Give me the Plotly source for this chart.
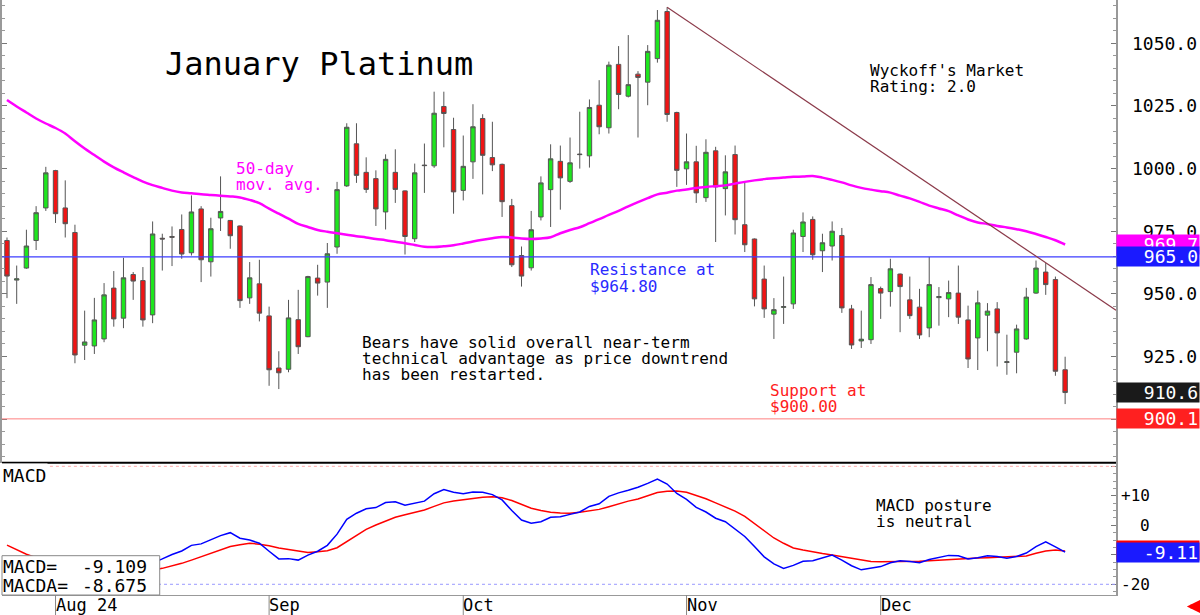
import pandas as pd
import plotly.graph_objects as go

# ---------------- data ----------------
holidays = ["2024-09-02", "2024-11-28", "2024-12-25"]
dates = [d.strftime("%Y-%m-%d") for d in pd.bdate_range("2024-07-25", "2024-12-30")
         if d.strftime("%Y-%m-%d") not in holidays]

opens = [971.3, 955.5, 960.3, 971.3, 984.3, 999.2, 984.3, 974.5, 929.5, 929.2,
         932.0, 952.3, 940.3, 957.7, 955.3, 941.6, 972.2, 972.9, 975.7, 966.4,
         983.9, 962.8, 980.3, 979.3, 977.1, 948.4, 954.0, 941.2, 920.4, 919.9,
         939.7, 932.9, 956.3, 954.7, 968.7, 993.1, 1009.9, 998.5, 996.0, 982.7,
         998.5, 991.1, 972.0, 1001.4, 1001.1, 1024.8, 1015.6, 991.3, 1002.7, 1020.0,
         1004.4, 1001.7, 985.2, 965.3, 960.4, 980.7, 991.6, 1002.9, 994.9, 1005.8,
         1005.1, 1025.3, 1016.3, 1041.6, 1028.9, 1037.7, 1034.5, 1043.9, 1062.7, 1022.4,
         999.9, 1002.7, 988.4, 1007.1, 992.0, 1005.6, 977.6, 971.9, 955.9, 941.9,
         944.6, 946.0, 972.9, 979.7, 967.2, 969.1, 973.3, 944.0, 931.2, 931.7,
         952.1, 950.9, 957.9, 947.6, 944.7, 936.4, 948.5, 948.0, 950.3, 939.6,
         932.4, 941.5, 944.0, 922.6, 926.7, 932.0, 950.3, 958.7, 955.7, 919.7]
highs = [972.5, 961.3, 975.6, 985.0, 1000.7, 999.5, 995.3, 977.6, 943.3, 948.4,
         954.3, 959.1, 964.4, 958.7, 960.7, 978.9, 974.0, 976.9, 981.7, 989.3,
         985.0, 980.4, 996.9, 979.5, 977.3, 962.7, 963.6, 944.9, 927.1, 947.6,
         951.6, 957.2, 961.6, 970.3, 994.7, 1018.1, 1018.1, 1004.5, 999.3, 1005.7,
         1007.7, 991.3, 1002.0, 1010.0, 1030.7, 1030.7, 1020.3, 1013.2, 1025.7, 1021.7,
         1018.7, 1002.0, 987.9, 968.9, 983.1, 996.9, 1009.7, 1009.2, 1012.4, 1022.7,
         1027.6, 1035.3, 1042.7, 1048.9, 1053.3, 1038.9, 1049.3, 1063.3, 1064.4, 1022.7,
         1014.0, 1009.1, 1011.7, 1008.7, 1005.3, 1009.2, 994.7, 972.1, 961.3, 948.3,
         956.9, 975.6, 982.5, 980.9, 974.0, 978.9, 976.3, 945.6, 943.3, 956.7,
         952.9, 964.0, 958.1, 956.9, 952.0, 964.7, 952.7, 955.3, 961.3, 945.3,
         951.3, 946.3, 946.7, 933.7, 937.7, 952.4, 963.3, 962.3, 956.9, 924.9]
lows = [948.3, 946.0, 960.0, 967.5, 983.1, 978.3, 972.5, 922.3, 923.6, 926.0,
        930.7, 936.9, 936.3, 947.6, 936.9, 938.3, 959.3, 961.1, 964.0, 965.3,
        954.7, 956.9, 975.1, 968.0, 944.4, 946.0, 939.0, 913.3, 912.0, 918.7,
        926.0, 932.7, 949.3, 944.4, 966.0, 992.7, 994.3, 990.3, 977.1, 975.7,
        986.3, 965.7, 970.7, 990.3, 1000.3, 1008.5, 982.0, 987.3, 995.9, 989.7,
        999.0, 980.7, 960.7, 952.9, 959.3, 979.3, 976.7, 983.6, 994.3, 1000.0,
        1000.4, 1013.7, 1014.0, 1023.7, 1028.4, 1012.4, 1025.3, 1042.3, 1018.7, 992.7,
        993.5, 986.3, 986.7, 970.7, 981.3, 973.7, 966.7, 945.0, 940.4, 932.0,
        938.0, 944.0, 966.7, 963.6, 958.7, 963.3, 942.4, 928.0, 928.4, 930.0,
        940.0, 944.9, 934.7, 940.0, 932.0, 932.7, 937.3, 940.7, 938.0, 920.4,
        919.6, 927.1, 921.0, 917.7, 918.3, 931.7, 950.0, 949.6, 917.3, 906.0]
closes = [957.1, 956.0, 969.1, 982.4, 998.3, 982.0, 978.0, 925.6, 930.8, 939.6,
          949.6, 940.0, 956.4, 955.1, 939.6, 973.9, 971.9, 972.6, 965.9, 982.7,
          963.6, 976.0, 982.9, 973.2, 947.3, 956.4, 942.3, 919.7, 918.5, 940.4,
          928.9, 956.9, 954.3, 966.0, 991.6, 1016.5, 997.3, 991.7, 983.9, 1003.7,
          991.7, 972.9, 998.3, 1001.2, 1022.1, 1022.0, 990.7, 1000.9, 1016.7, 1005.3,
          1001.5, 986.8, 961.6, 957.1, 975.6, 994.3, 1003.9, 996.3, 1002.3, 1005.6,
          1024.4, 1016.7, 1041.3, 1029.6, 1033.5, 1036.4, 1046.8, 1059.2, 1021.6, 999.3,
          1002.7, 990.3, 1006.5, 992.7, 998.7, 979.6, 969.6, 948.0, 944.0, 943.7,
          944.9, 974.3, 978.7, 965.6, 970.4, 975.0, 944.4, 929.6, 931.9, 953.7,
          950.3, 960.0, 952.9, 941.3, 933.6, 953.7, 948.9, 950.5, 940.7, 924.0,
          946.4, 943.1, 934.4, 922.9, 936.0, 948.7, 960.3, 953.7, 919.1, 910.6]
ma50 = [1027.4, 1024.8, 1022.4, 1020.0, 1018.0, 1016.2, 1014.0, 1010.9, 1008.0, 1005.4,
        1002.8, 1000.5, 998.5, 996.6, 994.8, 993.4, 992.3, 991.2, 990.5, 990.2,
        989.8, 989.5, 989.2, 988.9, 988.5, 987.5, 986.2, 984.0, 982.0, 980.0,
        977.9, 976.7, 975.5, 974.8, 974.2, 973.6, 973.0, 972.5, 971.9, 971.4,
        970.8, 970.2, 969.5, 968.8, 968.7, 969.0, 969.4, 970.1, 970.9, 971.6,
        972.2, 972.7, 972.5, 972.1, 971.9, 972.1, 972.6, 974.2, 975.5, 976.6,
        978.2, 979.8, 981.5, 983.1, 984.9, 986.6, 988.2, 989.7, 990.4, 991.2,
        991.7, 992.3, 992.7, 993.0, 993.3, 994.0, 994.7, 995.3, 995.8, 996.1,
        996.4, 996.7, 996.8, 997.0, 996.4, 995.5, 994.5, 993.3, 992.3, 991.6,
        991.0, 990.4, 989.2, 988.1, 986.7, 985.2, 984.1, 983.0, 981.3, 979.7,
        978.5, 977.9, 977.1, 976.5, 975.8, 975.0, 973.9, 972.7, 971.4, 969.7]
macd = [-14, -15, -15.5, -15.5, -15.2, -15, -14.8, -15.5, -17.5, -18.5,
        -18.2, -17, -16, -15, -14, -12.8, -11.4, -9.9, -8.7, -6.8,
        -6.3, -4.8, -3.5, -2.5, -4.4, -5, -6.1, -8.8, -11.4, -11.3,
        -11.8, -10.1, -8.8, -6.8, -3, 2, 4.1, 5.6, 6, 7.7,
        8, 6.8, 7.4, 8.2, 10.7, 12.1, 11.2, 10.7, 11.3, 11.2,
        10.4, 8.6, 5, 1.8, 0.7, 1.2, 2.7, 2.9, 3.7, 4.5,
        6.4, 7.3, 9.8, 11, 11.9, 12.9, 14.2, 15.7, 14, 10.8,
        8.8, 6.1, 4.5, 2.4, 1.2, -1.3, -3.8, -7.2, -10.7, -13.1,
        -14.6, -13.6, -12.2, -12, -11.1, -10.1, -11.8, -13.7, -15.1, -14.6,
        -14, -12.7, -12, -12.3, -12.7, -11.6, -10.9, -10.2, -10.3, -11.4,
        -11, -10.3, -10.6, -11.2, -10.6, -9.4, -7.2, -5.6, -7.3, -9.109]
macda = [-6.7, -8.3, -9.8, -11, -11.9, -12.6, -13.1, -13.5, -14.2, -14.9,
         -15.4, -15.7, -15.8, -15.7, -15.5, -15.2, -14.6, -13.8, -12.9, -11.8,
         -10.6, -9.5, -8.3, -7.2, -6.6, -6.1, -6.4, -6.9, -7.7, -8.2,
         -8.8, -9.2, -9, -8.6, -7.6, -5.5, -3.7, -1.4, 0.1, 1.5,
         2.7, 3.6, 4.4, 5.2, 6.4, 7.6, 8.2, 8.7, 9.2, 9.5,
         9.7, 9.3, 8.4, 7.1, 5.8, 5, 4.4, 4.2, 4.1, 4.4,
         4.8, 5.4, 6.3, 7.3, 8.2, 8.9, 10, 11.1, 11.5, 11.6,
         11.2, 10.1, 9, 7.6, 6.2, 4.8, 3, 0.6, -2, -4.3,
         -6.1, -7.7, -8.4, -9.1, -9.6, -10.1, -10.6, -11.2, -11.8, -12.3,
         -12.4, -12.4, -12.3, -12.3, -12.2, -12, -11.8, -11.5, -11.4, -11.2,
         -11.1, -11, -10.9, -10.8, -10.7, -10.4, -9.5, -8.7, -8.4, -8.675]

price_ticks = [900, 925, 950, 975, 1000, 1025, 1050]
macd_ticks = [10, 0, -20]
macd_tick_text = ["+10", "0", "-20"]
month_labels = ["Aug 24", "Sep", "Oct", "Nov", "Dec"]

resistance = 964.8
support = 900.1
ma_last = 969.7
res_label = 965.0
trend_start_idx = 68
trend_values = [1064.4, 943.5]
x_range = [-0.514, 114.24]

# ---------------- styling ----------------
FONT = "DejaVu Sans Mono"
PLOT_W, PLOT_H = 1116, 595
SPLIT_PX = 462.7
split = 1 - SPLIT_PX / PLOT_H
GREEN, RED = "#1ee61e", "#f01414"
MAGENTA, BLUE = "#ff00ff", "#2a2aff"


def xp(px):
    return px / PLOT_W


def yp(py):
    return 1 - py / PLOT_H


fig = go.Figure()
fig.add_trace(go.Candlestick(
    x=dates, open=opens, high=highs, low=lows, close=closes,
    increasing=dict(fillcolor=GREEN, line=dict(color="#555555", width=1)),
    decreasing=dict(fillcolor=RED, line=dict(color="#555555", width=1)),
    whiskerwidth=0, xaxis="x", yaxis="y", hoverinfo="skip", showlegend=False))
fig.add_trace(go.Scatter(x=dates, y=ma50, mode="lines", yaxis="y", line_shape="spline",
                         line=dict(color=MAGENTA, width=2.5), hoverinfo="skip"))
fig.add_trace(go.Scatter(x=dates, y=macda, mode="lines", yaxis="y2",
                         line=dict(color="#ff0000", width=1.5), hoverinfo="skip"))
fig.add_trace(go.Scatter(x=dates, y=macd, mode="lines", yaxis="y2",
                         line=dict(color="#0000ff", width=1.5), hoverinfo="skip"))

shapes = []
# horizontal support/resistance
shapes.append(dict(type="line", xref="paper", yref="y", x0=0, x1=1, y0=resistance, y1=resistance,
                   line=dict(color="#3c3cff", width=1.2)))
shapes.append(dict(type="line", xref="paper", yref="y", x0=0, x1=1, y0=support, y1=support,
                   line=dict(color="#ff8080", width=1)))
# trend line
shapes.append(dict(type="line", xref="x", yref="y", x0=trend_start_idx, x1=x_range[1],
                   y0=trend_values[0], y1=trend_values[1], line=dict(color="#8b3a4a", width=1.2)))
# panel separator
shapes.append(dict(type="line", xref="paper", yref="paper", x0=0, x1=1, y0=split, y1=split,
                   line=dict(color="black", width=2)))
# +/-20 dotted lines
shapes.append(dict(type="line", xref="paper", yref="y2", x0=xp(48), x1=1, y0=20, y1=20,
                   line=dict(color="#ffaaaa", width=1, dash="dot")))
shapes.append(dict(type="line", xref="paper", yref="y2", x0=0, x1=1, y0=-20, y1=-20,
                   line=dict(color="#9999ff", width=1, dash="dot")))
# month separators
month_idx = [i for i in range(1, len(dates)) if dates[i][5:7] != dates[i - 1][5:7]]
for i in month_idx:
    shapes.append(dict(type="line", xref="x", yref="paper", x0=i, x1=i, y0=0, y1=-20 / PLOT_H,
                       line=dict(color="#888888", width=1)))
# MACD value box
shapes.append(dict(type="rect", xref="paper", yref="paper", x0=0, x1=xp(158), y0=0, y1=yp(555.7),
                   fillcolor="white", line=dict(color="#888888", width=1)))

ann = []


def txt(s, x, y, color="black", size=16, xref="paper", yref="paper", anchor="left", **kw):
    ann.append(dict(text=s, x=x, y=y, xref=xref, yref=yref, xanchor=anchor, yanchor="middle",
                    showarrow=False, font=dict(family=FONT, size=size, color=color), **kw))


# price axis labels
for v in price_ticks:
    txt(f"{v:.1f}", xp(1199), v, size=18, yref="y", anchor="right")
# macd axis labels
for v, t in zip(macd_ticks, macd_tick_text):
    txt(t, xp(1152), v, size=16, yref="y2", anchor="right")


# right side value boxes
def box(s, y, bg, yref="y", size=18):
    ann.append(dict(text=s, x=1.0, y=y, xref="paper", yref=yref, xanchor="left", yanchor="middle",
                    showarrow=False, bgcolor=bg, width=80, height=17, align="right", borderpad=1,
                    font=dict(family=FONT, size=size, color="white")))


box(f"{ma_last:.1f}", ma_last, MAGENTA)
box(f"{res_label:.1f}", res_label, "#1a1aff")
box(f"{closes[-1]:.1f}", closes[-1], "#1a1a1a")
box(f"{support:.1f}", support, "#ff2020")
box(f"{macda[-1]:.2f}", macda[-1], "#ff0000", yref="y2")
box(f"{macd[-1]:.2f}", macd[-1], "#1a1aff", yref="y2")

# chart texts
txt("January Platinum", xp(161), yp(64), size=32)
txt("Wyckoff's Market", xp(868), yp(70), size=16)
txt("Rating: 2.0", xp(868), yp(86.5), size=16)
txt("50-day", xp(232), yp(168), color=MAGENTA)
txt("mov. avg.", xp(232), yp(184), color=MAGENTA)
txt("Bears have solid overall near-term", xp(359), yp(342))
txt("technical advantage as price downtrend", xp(359), yp(358))
txt("has been restarted.", xp(359), yp(374.5))
txt("Resistance at", xp(587), yp(270), color="#2a2aff")
txt("$964.80", xp(587), yp(286), color="#2a2aff")
txt("Support at", xp(767), yp(390), color="#ff2020")
txt("$900.00", xp(767), yp(406), color="#ff2020")
txt("MACD posture", xp(874), yp(505.5))
txt("is neutral", xp(874), yp(521))
txt("MACD", xp(-1), yp(475), size=18, bgcolor="white")
txt("MACD=", xp(-1), yp(566), size=18)
txt("MACDA=", xp(-1), yp(585), size=18)
txt(f"{macd[-1]:.3f}", xp(147), yp(566), size=18, anchor="right")
txt(f"{macda[-1]:.3f}", xp(147), yp(585), size=18, anchor="right")

# month labels
for i, lab in zip(month_idx, month_labels):
    txt(lab, dates[i], yp(604.5), size=17, xref="x", xshift=-2)

# red arrow bottom right
ann.append(dict(text="", x=xp(1187), y=yp(606.5), xref="paper", yref="paper", ax=11, ay=0,
                showarrow=True, arrowhead=2, arrowsize=0.7, arrowwidth=4, arrowcolor="#ff0000"))

fig.update_layout(
    width=1200, height=615, margin=dict(l=0, r=84, t=0, b=20, pad=0),
    paper_bgcolor="white", plot_bgcolor="white", showlegend=False, boxgap=0.35,
    shapes=shapes, annotations=ann,
    xaxis=dict(type="category", range=x_range, anchor="y2", showticklabels=False, ticks="",
               showgrid=False, zeroline=False, showline=True, linecolor="#999999", linewidth=1,
               rangeslider=dict(visible=False), fixedrange=True),
    yaxis=dict(domain=[split, 1], range=[882.6, 1067.3], side="right", anchor="x",
               showgrid=False, zeroline=False, showline=True, linecolor="#999999", linewidth=1.5,
               ticks="inside", ticklen=5, tickcolor="#777777", tick0=0, dtick=25,
               showticklabels=False, mirror="ticks",
               minor=dict(dtick=5, ticks="inside", ticklen=3, tickcolor="#999999")),
    yaxis2=dict(domain=[0, split], range=[-23.63, 21.22], side="right", anchor="x",
                showgrid=False, zeroline=False, showline=True, linecolor="#999999", linewidth=1.5,
                ticks="inside", ticklen=5, tickcolor="#777777", tick0=0, dtick=10,
                showticklabels=False,
                minor=dict(dtick=2.5, ticks="inside", ticklen=3, tickcolor="#999999")),
)

fig.write_html("out.html")
